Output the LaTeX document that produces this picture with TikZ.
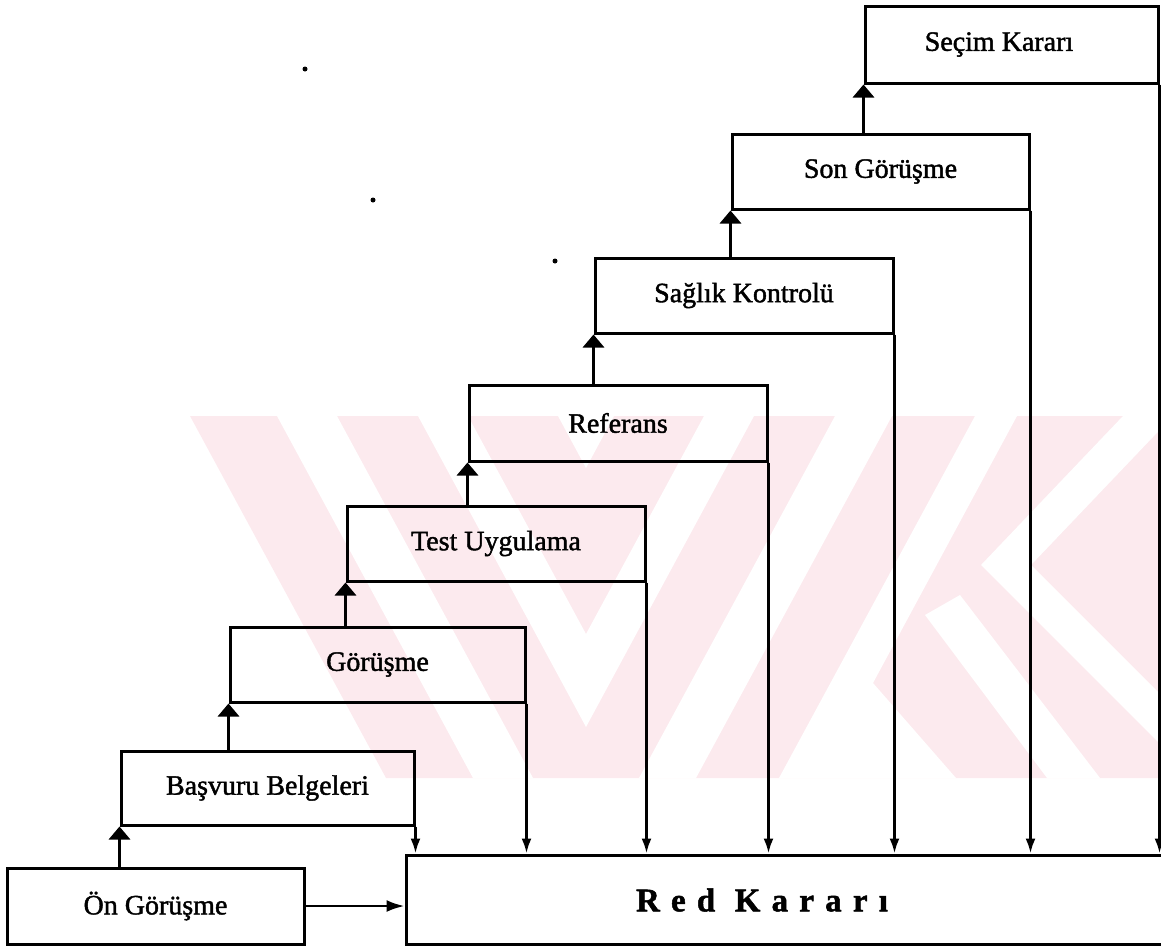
\documentclass[tikz,border=0pt]{standalone}
\usepackage{fontspec}
\setmainfont{Liberation Serif}
\usetikzlibrary{arrows.meta}
\definecolor{wmpink}{RGB}{252,234,238}
\begin{document}
\begin{tikzpicture}[x=1pt,y=-1pt,
  stage/.style={draw, line width=3pt, inner sep=0pt,
    font=\fontsize{28}{32}\selectfont\addfontfeatures{FakeBold=1.5}},
  lbl/.style={inner sep=0pt, font=\fontsize{28}{32}\selectfont\addfontfeatures{FakeBold=1.5}},
  uplink/.style={line width=3.5pt, -{Triangle[width=21pt,length=13pt]}},
  droplink/.style={line width=2.6pt, -{Latex[width=10pt,length=15pt]}},
  sidelink/.style={line width=2.6pt, -{Latex[width=12pt,length=18pt]}},
  speck/.style={fill=black}
]
\useasboundingbox (0,0) rectangle (1161,948);

% faint background emblem
\fill[wmpink] (190,416) -- (1161,416) -- (1161,778) -- (386,778) -- cycle;
\fill[white] (277,416) -- (337,416) -- (533,778) -- (473,778) -- cycle;
\fill[white] (835,416) -- (892,416) -- (696,778) -- (639,778) -- cycle;
\fill[white] (418,416) -- (468,416) -- (586,634) -- (704,416) -- (754,416) -- (586,727) -- cycle;
\fill[white] (558,416) -- (614,416) -- (586,468) -- cycle;
\fill[white] (975,416) -- (1017,416) -- (873,683) -- (956,778) -- (779,778) -- cycle;
\fill[white] (925,615) -- (960,595) -- (1100,778) -- (1047,778) -- cycle;
\fill[white] (1123,416) -- (1173,416) -- (1031,565) -- (1161,695) -- (1161,745) -- (981,565) -- cycle;

% stray specks
\fill[speck] (305,69) circle (2.5pt);
\fill[speck] (373,200) circle (2.5pt);
\fill[speck] (555,261) circle (2.5pt);

% stages
\node[stage, minimum width=297pt, minimum height=76pt] (onG) at (155.5,906) {Ön Görüşme};
\node[stage, minimum width=293pt, minimum height=74pt] (bas) at (267.5,788) {Başvuru Belgeleri};
\node[stage, minimum width=295pt, minimum height=75pt] (gor) at (377.5,664.5) {Görüşme};
\node[stage, minimum width=298pt, minimum height=75pt] (test) at (496,543.5) {Test Uygulama};
\node[stage, minimum width=298pt, minimum height=76pt] (ref) at (618,423) {Referans};
\node[stage, minimum width=298pt, minimum height=75pt] (sag) at (744,295.5) {Sağlık Kontrolü};
\node[stage, minimum width=297pt, minimum height=75pt] (son) at (880.5,171.5) {Son Görüşme};
\node[stage, minimum width=293pt, minimum height=77pt] (sec) at (1011.5,44.5) {};
\node[lbl] (secT) at (999,44.5) {Seçim Kararı};
\node[stage, minimum width=779pt, minimum height=89pt] (red) at (795.5,899.5) {};
\node[inner sep=0pt, font=\fontsize{33}{38}\selectfont\bfseries\addfontfeatures{LetterSpace=34,FakeBold=1.5}] (redT) at (762,900) {Red Kararı};

% forward steps
\draw[uplink] (onG.north -| bas.south west) -- (bas.south west);
\draw[uplink] (bas.north -| gor.south west) -- (gor.south west);
\draw[uplink] (gor.north -| test.south west) -- (test.south west);
\draw[uplink] (test.north -| ref.south west) -- (ref.south west);
\draw[uplink] (ref.north -| sag.south west) -- (sag.south west);
\draw[uplink] (sag.north -| son.south west) -- (son.south west);
\draw[uplink] (son.north -| sec.south west) -- (sec.south west);

% rejection paths
\draw[sidelink] (onG.east) -- (red.west |- onG.east);
\draw[droplink] (bas.south east) -- (red.north -| bas.south east);
\draw[droplink] (gor.south east) -- (red.north -| gor.south east);
\draw[droplink] (test.south east) -- (red.north -| test.south east);
\draw[droplink] (ref.south east) -- (red.north -| ref.south east);
\draw[droplink] (sag.south east) -- (red.north -| sag.south east);
\draw[droplink] (son.south east) -- (red.north -| son.south east);
\draw[droplink] (sec.south east) -- (red.north -| sec.south east);
\end{tikzpicture}
\end{document}
